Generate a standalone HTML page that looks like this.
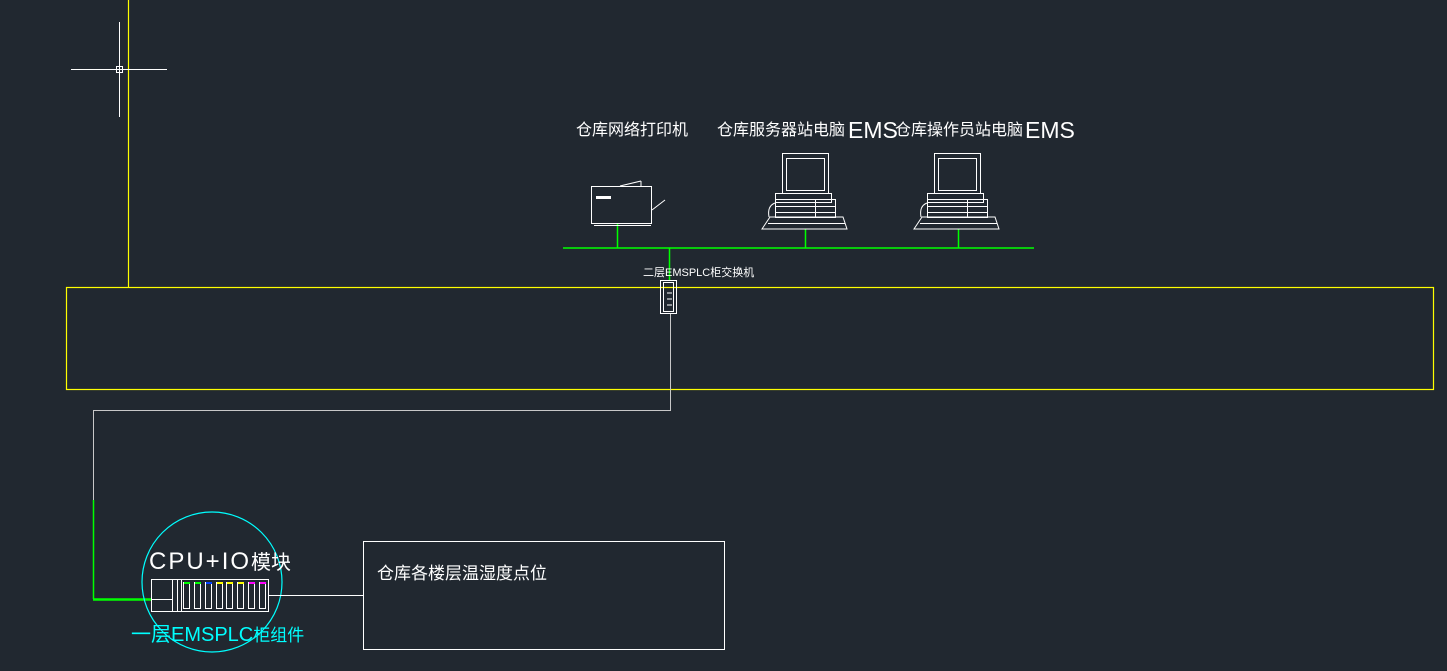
<!DOCTYPE html>
<html><head><meta charset="utf-8"><style>
body{margin:0;background:#212830;}
svg{display:block}
text{font-family:"Liberation Sans","Noto Sans CJK SC",sans-serif;}
</style></head><body>
<svg width="1447" height="671" viewBox="0 0 1447 671" xmlns="http://www.w3.org/2000/svg">
<rect width="1447" height="671" fill="#212830"/>
<line x1="128.5" y1="0" x2="128.5" y2="287" stroke="#ffff00" stroke-width="1.2"/>
<rect x="66.5" y="287.5" width="1367" height="102" fill="none" stroke="#ffff00" stroke-width="1.2"/>
<g stroke="#fff" stroke-width="1">
<line x1="71" y1="69.5" x2="167" y2="69.5"/>
<line x1="119.5" y1="22" x2="119.5" y2="117"/>
<rect x="116.5" y="66.5" width="6" height="6" fill="none"/>
</g>
<g stroke="#00ff00" stroke-width="1.5">
<line x1="563" y1="248" x2="1034" y2="248"/>
<line x1="617.5" y1="224" x2="617.5" y2="248"/>
<line x1="805.5" y1="229" x2="805.5" y2="248"/>
<line x1="958.5" y1="229" x2="958.5" y2="248"/>
<line x1="669.5" y1="248" x2="669.5" y2="280"/>
<line x1="93.5" y1="500" x2="93.5" y2="599"/>
<line x1="93" y1="599.5" x2="152" y2="599.5" stroke-width="2.5"/>
</g>
<g stroke="#c8c8c8" stroke-width="1" fill="none">
<polyline points="670.5,313 670.5,410.5 93.5,410.5 93.5,500"/>
</g>
<g fill="#fff" font-size="16">
<text x="576" y="135">仓库网络打印机</text>
<text x="717" y="135">仓库服务器站电脑</text>
<text x="848" y="138" font-size="23">EMS</text>
<text x="895" y="135">仓库操作员站电脑</text>
<text x="1025" y="138" font-size="23">EMS</text>
<text x="643" y="276" font-size="11">二层EMSPLC柜交换机</text>
</g>
<g stroke="#fff" stroke-width="1" fill="none">
<rect x="591.5" y="186.5" width="60" height="37"/>
<line x1="594" y1="225.5" x2="651" y2="225.5"/>
<line x1="620" y1="186" x2="641" y2="181"/>
<line x1="641" y1="181" x2="641" y2="186"/>
<line x1="652" y1="210" x2="665" y2="200"/>
<rect x="596" y="196" width="15" height="3" fill="#fff" stroke="none"/>
</g>
<g id="pc" stroke="#fff" stroke-width="1" fill="none">
<rect x="782.5" y="153.5" width="46" height="40"/>
<rect x="786.5" y="158.5" width="38" height="32"/>
<rect x="775.5" y="193.5" width="56" height="9"/>
<rect x="775.5" y="199.5" width="60" height="18"/>
<line x1="775" y1="206.5" x2="835" y2="206.5"/>
<line x1="775" y1="212.5" x2="835" y2="212.5"/>
<line x1="815.5" y1="199" x2="815.5" y2="217"/>
<polygon points="770,217 843,217 847,229 762,229"/>
<line x1="768" y1="223.5" x2="845" y2="223.5"/>
<path d="M775,203 q-8,3 -6,14"/>
</g>
<use href="#pc" x="152"/>
<g stroke="#fff" stroke-width="1" fill="none">
<rect x="660.5" y="280.5" width="16" height="33"/>
<rect x="663.5" y="282.5" width="10" height="29"/>
<line x1="667" y1="293" x2="672" y2="293"/><line x1="667" y1="299" x2="672" y2="299"/><line x1="667" y1="305" x2="672" y2="305"/>
</g>
<circle cx="212" cy="582" r="70" fill="none" stroke="#00ffff" stroke-width="1.2"/>
<text x="149" y="569" fill="#fff" font-size="24" letter-spacing="2">CPU+IO<tspan font-size="20" letter-spacing="0">模块</tspan></text>
<text x="131" y="641" fill="#00ffff" font-size="20">一层EMSPLC<tspan font-size="17">柜组件</tspan></text>
<g stroke="#fff" stroke-width="1" fill="none">
<rect x="151.5" y="579.5" width="117" height="32"/>
<line x1="172.5" y1="580" x2="172.5" y2="611"/>
<line x1="151" y1="599.5" x2="172" y2="599.5"/>
<line x1="177.5" y1="580" x2="177.5" y2="611"/>
<line x1="181.5" y1="580" x2="181.5" y2="611"/>
<rect x="183.5" y="582.5" width="6" height="26"/>
<rect x="194.5" y="582.5" width="6" height="26"/>
<rect x="205.5" y="582.5" width="6" height="26"/>
<rect x="216.5" y="582.5" width="6" height="26"/>
<rect x="226.5" y="582.5" width="6" height="26"/>
<rect x="237.5" y="582.5" width="6" height="26"/>
<rect x="248.5" y="582.5" width="6" height="26"/>
<rect x="259.5" y="582.5" width="6" height="26"/>
<line x1="269" y1="595.5" x2="363" y2="595.5"/>
</g>
<rect x="184" y="582" width="6" height="2" fill="#00ff00"/>
<rect x="195" y="582" width="6" height="2" fill="#00ff00"/>
<rect x="206" y="582" width="6" height="2" fill="#0040ff"/>
<rect x="217" y="582" width="6" height="2" fill="#ffff00"/>
<rect x="227" y="582" width="6" height="2" fill="#ffff00"/>
<rect x="238" y="582" width="6" height="2" fill="#ffff00"/>
<rect x="249" y="582" width="6" height="2" fill="#ff00ff"/>
<rect x="260" y="582" width="6" height="2" fill="#ff00ff"/>
<rect x="363.5" y="541.5" width="361" height="108" fill="none" stroke="#fff" stroke-width="1"/>
<text x="377" y="579" fill="#fff" font-size="17">仓库各楼层温湿度点位</text>
</svg>
</body></html>
